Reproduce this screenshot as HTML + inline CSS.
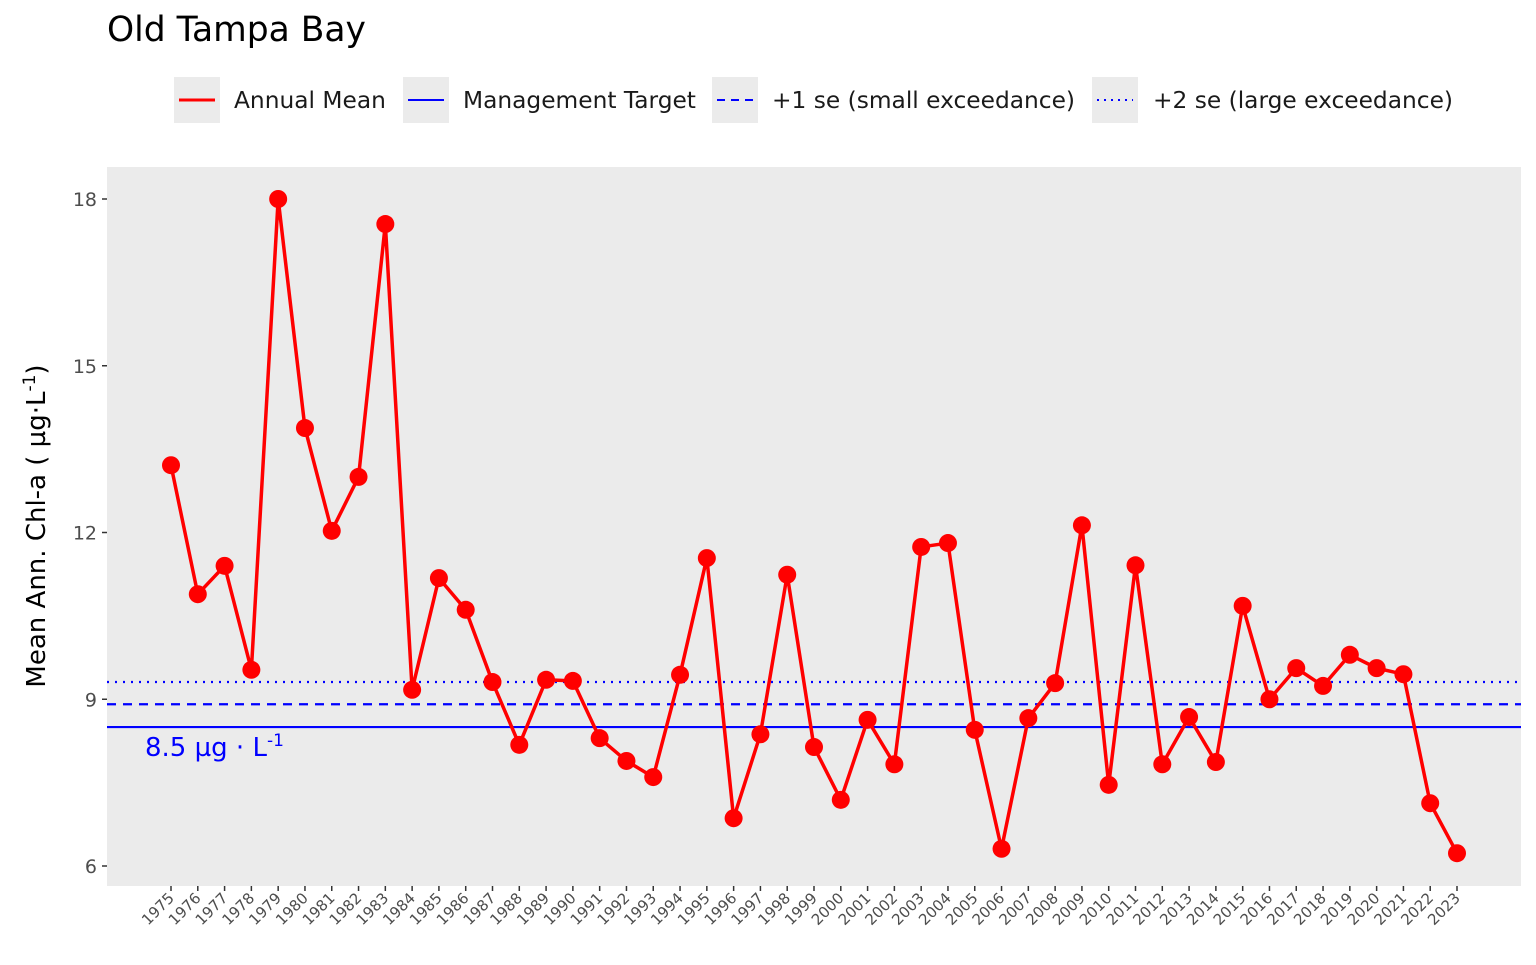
<!DOCTYPE html>
<html><head><meta charset="utf-8"><style>
body{margin:0;background:#fff;font-family:"Liberation Sans","DejaVu Sans",sans-serif;}
svg text{font-family:"DejaVu Sans","Liberation Sans",sans-serif;}
</style></head><body>
<svg id="c" width="1536" height="960">
<text x="107" y="41" font-size="34.5" fill="#000">Old Tampa Bay</text>
<g font-size="23.3" fill="#1a1a1a">
 <g><rect x="174" y="77" width="46" height="46" fill="#ebebeb"/><line x1="179" y1="100" x2="215" y2="100" stroke="red" stroke-width="3"/><text x="234" y="108">Annual Mean</text></g>
 <g><rect x="403" y="77" width="46" height="46" fill="#ebebeb"/><line x1="408" y1="100" x2="444" y2="100" stroke="blue" stroke-width="2"/><text x="463" y="108">Management Target</text></g>
 <g><rect x="712" y="77" width="46" height="46" fill="#ebebeb"/><line x1="717" y1="100" x2="753" y2="100" stroke="blue" stroke-width="2" stroke-dasharray="8,6"/><text x="772" y="108">+1 se (small exceedance)</text></g>
 <g><rect x="1092" y="77" width="46" height="46" fill="#ebebeb"/><line x1="1097" y1="100" x2="1133" y2="100" stroke="blue" stroke-width="2" stroke-dasharray="2,5"/><text x="1153" y="108">+2 se (large exceedance)</text></g>
</g>
<rect x="107" y="167" width="1414" height="719" fill="#ebebeb"/>
<g id="ref"></g>
<g id="series"></g>
<g id="axes"></g>
<text transform="translate(45,526) rotate(-90)" text-anchor="middle" font-size="26" fill="#000">Mean Ann. Chl-a ( µg·L<tspan baseline-shift="super" font-size="17">-1</tspan>)</text>
<text x="145" y="756" font-size="26" fill="blue">8.5 µg · L<tspan baseline-shift="super" font-size="17">-1</tspan></text>
</svg>
<script>
const years=[];for(let y=1975;y<=2023;y++)years.push(y);
const means=[13.21,10.89,11.40,9.53,18.0,13.88,12.03,13.0,17.55,9.17,11.18,10.61,9.31,8.18,9.35,9.33,8.30,7.89,7.60,9.44,11.54,6.86,8.37,11.24,8.14,7.19,8.63,7.83,11.74,11.81,8.45,6.31,8.66,9.29,12.13,7.46,11.41,7.83,8.68,7.87,10.68,9.0,9.56,9.24,9.80,9.56,9.45,7.13,6.23];
const yTicks=[6,9,12,15,18];
const target=8.5, se1=8.91, se2=9.31;
const NS="http://www.w3.org/2000/svg";
const X=yr=>171+(yr-1975)*(1286/48);
const Y=v=>866-(v-6)*(667/12);
function mk(t,a,p){const e=document.createElementNS(NS,t);for(const k in a)e.setAttribute(k,a[k]);p.appendChild(e);return e;}
const axes=document.getElementById('axes'),ref=document.getElementById('ref'),ser=document.getElementById('series');
yTicks.forEach(t=>{
 const m=mk('line',{x1:102,x2:107,y1:Y(t),y2:Y(t),stroke:'#333','stroke-width':1.5},axes);
 
 
 const tx=mk('text',{x:97,y:Y(t)+7,'text-anchor':'end','font-size':19,fill:'#4d4d4d'},axes);tx.textContent=t;
 
 
});
years.forEach(yr=>{
 const m=mk('line',{x1:X(yr),x2:X(yr),y1:886,y2:891,stroke:'#333','stroke-width':1.5},axes);
 
 
 const tx=mk('text',{x:X(yr)+4,y:899,'text-anchor':'end','font-size':15,fill:'#4d4d4d',transform:`rotate(-45 ${X(yr)+4} 899)`},axes);tx.textContent=yr;
 
 
});
[[target,''],[se1,'9,7'],[se2,'2,6']].forEach(([v,d],i)=>{
 const l=mk('line',{x1:107,x2:1521,y1:Y(v),y2:Y(v),stroke:'blue','stroke-width':2.2,'stroke-dasharray':d},ref);
 
 
});
const pl=mk('polyline',{points:years.map((y,i)=>X(y)+','+Y(means[i])).join(' '),fill:'none',stroke:'red','stroke-width':3.5,'stroke-linejoin':'round'},ser);


years.forEach((y,i)=>{
 const c=mk('circle',{cx:X(y),cy:Y(means[i]),r:9,fill:'red'},ser);
 
 
});
</script>
</body></html>
